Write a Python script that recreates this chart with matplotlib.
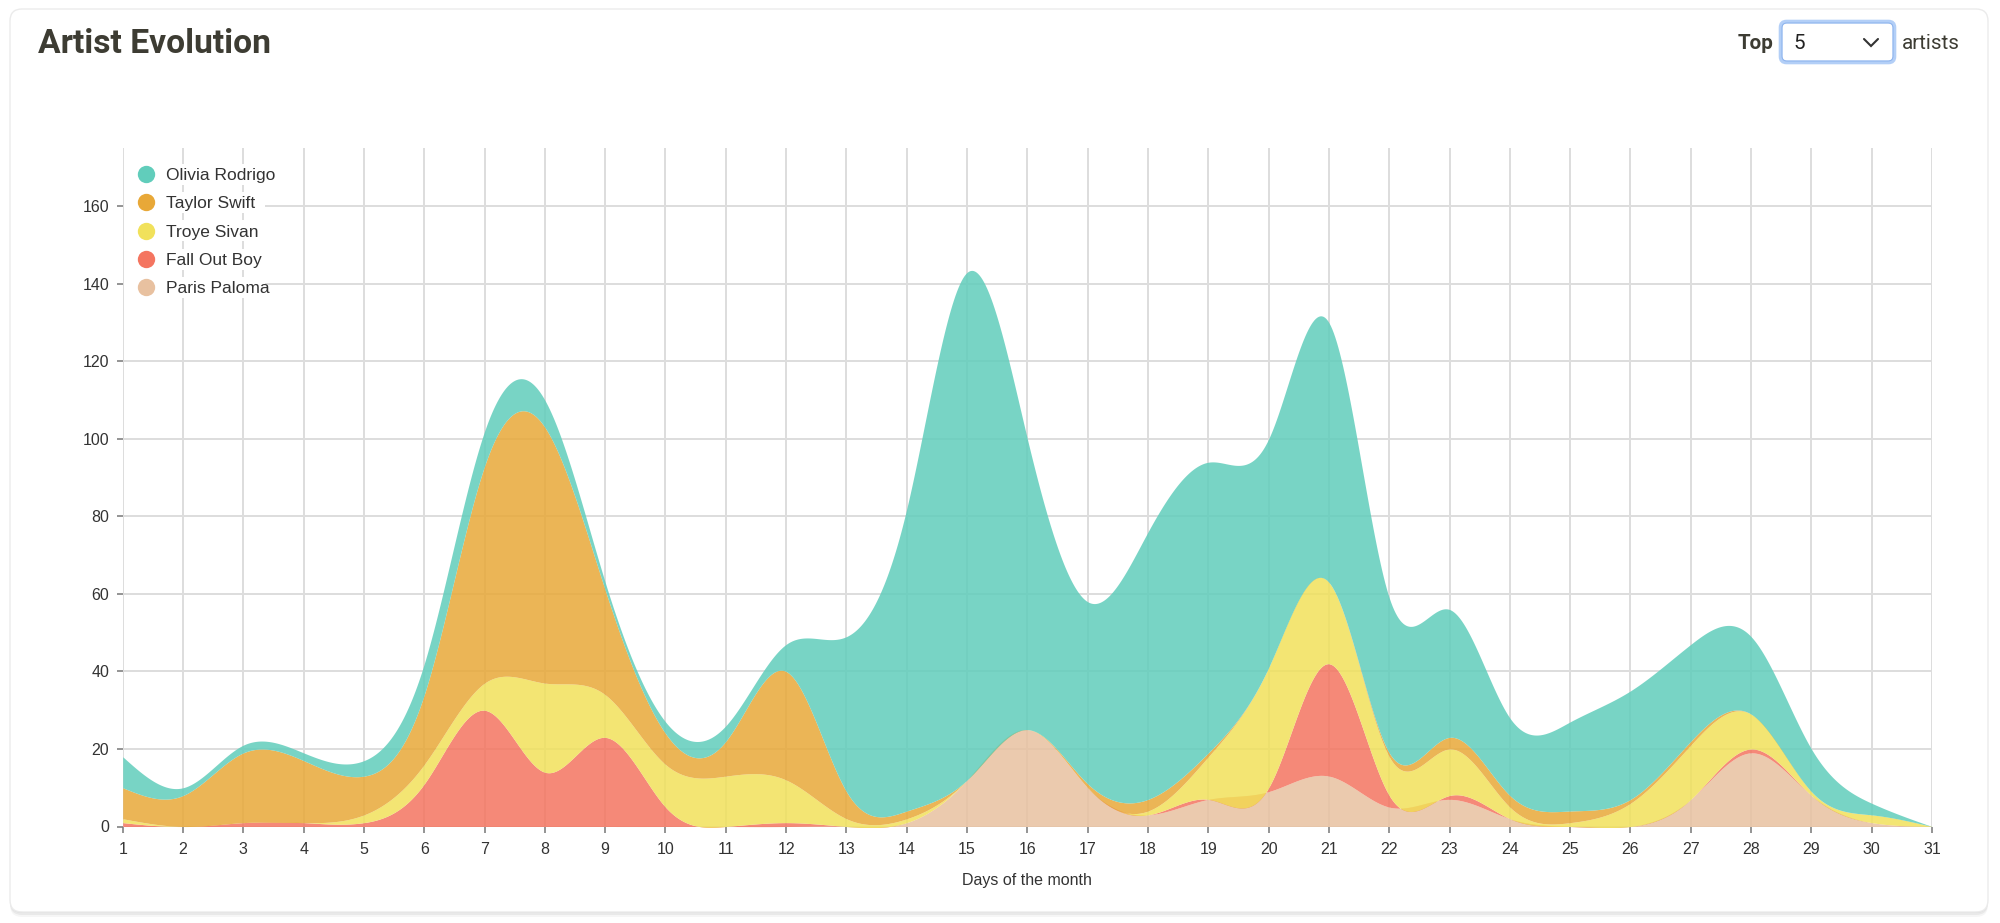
import numpy as np
import matplotlib
matplotlib.use("Agg")
import matplotlib.pyplot as plt
from matplotlib.patches import FancyBboxPatch, Rectangle
from matplotlib.lines import Line2D
from matplotlib.transforms import IdentityTransform

# data: plays per day, stacked bottom -> top
days = list(range(1, 32))
artists = ["Paris Paloma", "Fall Out Boy", "Troye Sivan", "Taylor Swift", "Olivia Rodrigo"]
colors = ["#e8c1a0", "#f47560", "#f1e15b", "#e8a838", "#61cdbb"]

paris_paloma = [0, 0, 0, 0, 0, 0, 0, 0, 0, 0, 0, 0, 0, 1, 12, 25, 10, 3, 7, 9,
                13, 5, 7, 2, 0, 0, 7, 19, 8, 1, 0]
fall_out_boy = [1, 0, 1, 1, 1, 11, 30, 14, 23, 5, 0, 1, 0, 0, 0, 0, 0, 0, 0, 1,
                29, 3, 1, 0, 0, 0, 0, 1, 0, 0, 0]
troye_sivan = [1, 0, 0, 0, 2, 5, 7, 23, 11, 11, 13, 11, 2, 1, 0, 0, 0, 1, 11, 31,
               21, 10, 12, 3, 1, 6, 14, 9, 1, 2, 0]
taylor_swift = [8, 8, 18, 16, 10, 18, 56, 66, 27, 8, 9, 28, 7, 2, 0, 0, 1, 3, 1, 0,
                0, 1, 3, 3, 3, 1, 1, 0, 0, 0, 0]
olivia_rodrigo = [8, 2, 2, 2, 4, 8, 9, 7, 2, 3, 4, 7, 40, 78, 131, 75, 47, 69, 75, 59,
                  67, 40, 33, 20, 23, 28, 25, 20, 11, 3, 0]
series = [paris_paloma, fall_out_boy, troye_sivan, taylor_swift, olivia_rodrigo]

W, H = 2000, 923
fig = plt.figure(figsize=(W / 100, H / 100), dpi=100)
fig.patch.set_facecolor("white")
px = IdentityTransform()

# card + shadow (behind the axes)
for off, a in [(5, 0.035), (3, 0.05), (1, 0.06)]:
    fig.patches.append(FancyBboxPatch((10, H - 912 - off), 1978, 903, boxstyle="round,pad=0,rounding_size=12",
                                      transform=px, fc="black", ec="none", alpha=a, zorder=-3))
fig.patches.append(FancyBboxPatch((10, H - 912), 1978, 903, boxstyle="round,pad=0,rounding_size=12",
                                  transform=px, fc="white", ec="#ebebeb", lw=1, zorder=-2))

ax = fig.add_axes([122.7 / W, (H - 826.5) / H, (1932 - 122.7) / W, (826.5 - 148.3) / H])
ax.patch.set_visible(False)
ax.set_xlim(1, 31)
ax.set_ylim(0, 175)
ax.set_xticks(days)
ax.set_yticks(range(0, 161, 20))
for s in ax.spines.values():
    s.set_visible(False)
ax.grid(True, color="#dddddd", lw=1.4)
ax.set_axisbelow(True)
ax.tick_params(length=4.3, width=1.1, color="#777777", labelsize=11.5, labelcolor="#333333")
ax.tick_params(axis="x", pad=7)
ax.tick_params(axis="y", pad=5.5)
for lab in ax.get_xticklabels() + ax.get_yticklabels():
    lab.set_family("Liberation Sans")


def natural_spline(xv, yv, n=40):
    # natural cubic spline through (xv, yv), unit spacing
    y = np.asarray(yv, float)
    N = len(y)
    A = np.zeros((N, N))
    r = np.zeros(N)
    A[0, 0] = A[-1, -1] = 1
    for i in range(1, N - 1):
        A[i, i - 1], A[i, i], A[i, i + 1] = 1, 4, 1
        r[i] = 6 * (y[i + 1] - 2 * y[i] + y[i - 1])
    M = np.linalg.solve(A, r)
    xs, ys = [], []
    t = np.linspace(0, 1, n, endpoint=False)
    for i in range(N - 1):
        seg = (y[i] * (1 - t) + y[i + 1] * t
               + ((1 - t) ** 3 - (1 - t)) * M[i] / 6 + (t ** 3 - t) * M[i + 1] / 6)
        xs.append(xv[i] + t * (xv[i + 1] - xv[i]))
        ys.append(seg)
    xs.append([xv[-1]])
    ys.append([y[-1]])
    return np.concatenate(xs), np.concatenate(ys)


x = np.array(days, float)
stack = np.cumsum(np.array(series, float), axis=0)
xs, lower = natural_spline(x, np.zeros_like(x))
for i in range(len(series)):
    _, upper = natural_spline(x, stack[i])
    ax.fill_between(xs, lower, upper, color=colors[i], alpha=0.85, lw=0, zorder=2)
    lower = upper

fig.text(1027 / W, 1 - 881 / H, "Days of the month", ha="center", va="center",
         fontsize=11.5, color="#333333", family="Liberation Sans")

# legend (top-left, reversed order)
rows = [174, 202.3, 230.7, 259, 287.3]
for k, (name, c) in enumerate(zip(artists[::-1], colors[::-1])):
    cy = rows[k]
    fig.add_artist(Rectangle((124, H - cy - 10.5), 141, 21, transform=px, fc="white", ec="none", zorder=3))
    fig.add_artist(Line2D([145.7], [H - cy], transform=px, marker="o", ms=12.5, mec="none",
                          mfc=c, ls="none", zorder=4))
    fig.text(166 / W, 1 - cy / H, name, ha="left", va="center_baseline", fontsize=12.5,
             color="#333333", family="Liberation Sans", zorder=4)

# title and selector
fig.text(38 / W, 1 - 53.3 / H, "Artist Evolution", fontsize=24.2, fontweight="bold",
         family="Roboto", color="#3d3c33", va="baseline")
fig.text(1773 / W, 1 - 49.3 / H, "Top", fontsize=14.9, fontweight="bold", family="Roboto",
         color="#3d3c33", ha="right", va="baseline")
fig.patches.append(FancyBboxPatch((1780.5, H - 62.5), 114, 41, boxstyle="round,pad=0,rounding_size=6",
                                  transform=px, fc="white", ec="#b3cff7", lw=2.6))
fig.patches.append(FancyBboxPatch((1782, H - 61), 111, 38, boxstyle="round,pad=0,rounding_size=5",
                                  transform=px, fc="none", ec="#8fb5ee", lw=0.8))
fig.text(1793 / W, 1 - 49.3 / H, "5", fontsize=14.9, family="Roboto", color="#222222", va="baseline")
fig.add_artist(Line2D([1864, 1871, 1878], [H - 39, H - 46, H - 39], transform=px,
                      color="#333333", lw=1.5, solid_capstyle="round", solid_joinstyle="miter"))
fig.text(1902 / W, 1 - 49.3 / H, "artists", fontsize=14.9, family="Roboto",
         color="#3d3c33", ha="left", va="baseline")

fig.savefig("out.png", dpi=100, facecolor="white")
